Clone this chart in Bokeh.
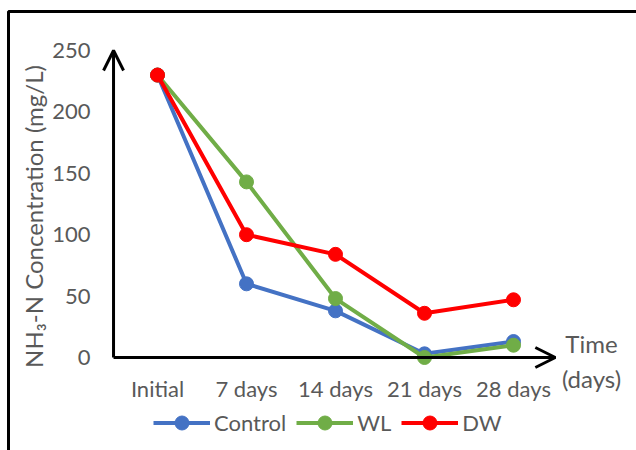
from bokeh.plotting import figure
from bokeh.models import (Range1d, FixedTicker, Arrow, OpenHead, Label, Legend, LegendItem,
                          BoxAnnotation)
from bokeh.embed import file_html
from bokeh.resources import INLINE
import math

categories = ["Initial", "7 days", "14 days", "21 days", "28 days"]
control = [230, 60, 38, 3, 13]
wl = [230, 143, 48, 0, 10]
dw = [230, 100, 84, 36, 47]
y_ticks = [0, 50, 100, 150, 200, 250]

FONT = "Lato"
GRAY = "#595959"
W, H = 636, 450

xs = list(range(len(categories)))

# frame covers the whole canvas; axes are placed with fixed_location
p = figure(width=W, height=H, output_backend="svg", toolbar_location=None,
           x_range=Range1d(-157 / 89, (W - 157) / 89),
           y_range=Range1d(-(H - 357) / 1.228, 357 / 1.228),
           min_border=0)
p.outline_line_color = None
p.grid.visible = False
p.background_fill_color = "white"
p.border_fill_color = "white"

XAX = -0.494  # data x where the y axis sits

for ax in (p.xaxis[0], p.yaxis[0]):
    ax.axis_line_color = None
    ax.major_tick_line_color = None
    ax.minor_tick_line_color = None
    ax.major_tick_out = 0
    ax.major_tick_in = 0
    ax.minor_tick_out = 0
    ax.major_label_text_font = FONT
    ax.major_label_text_color = GRAY
    ax.major_label_text_font_size = "22px"

p.yaxis[0].fixed_location = XAX
p.yaxis[0].ticker = FixedTicker(ticks=y_ticks)
p.yaxis[0].major_label_standoff = 23
p.xaxis[0].fixed_location = 0
p.xaxis[0].ticker = FixedTicker(ticks=xs)
p.xaxis[0].major_label_overrides = {i: c for i, c in enumerate(categories)}
p.xaxis[0].major_label_standoff = 17

series = [("Control", control, "#4472C4"), ("WL", wl, "#70AD47"), ("DW", dw, "#FF0000")]
items = []
for name, vals, col in series:
    ln = p.line(xs, vals, line_color=col, line_width=4)
    sc = p.scatter(xs, vals, size=14, fill_color=col, line_color=col)
    items.append(LegendItem(label=name, renderers=[ln, sc]))

# axis arrows
p.add_layout(Arrow(x_start=XAX, y_start=0, x_end=XAX, y_end=250, line_width=3,
                   line_color="black", end=OpenHead(size=20, line_width=3, line_color="black")))
p.add_layout(Arrow(x_start=XAX, y_start=0, x_end=4.47, y_end=0, line_width=3,
                   line_color="black", end=OpenHead(size=20, line_width=3, line_color="black")))

# y axis title
p.add_layout(Label(x=33, y=H - 216, x_units="screen", y_units="screen",
                   text="NH\u2083-N Concentration (mg/L)", angle=math.pi / 2,
                   text_align="center", text_baseline="middle", text_font=FONT,
                   text_font_size="24px", text_color=GRAY))
# x axis title
p.add_layout(Label(x=591, y=H - 343, x_units="screen", y_units="screen", text="Time",
                   text_align="center", text_baseline="middle", text_font=FONT,
                   text_font_size="24px", text_color=GRAY))
p.add_layout(Label(x=591, y=H - 378, x_units="screen", y_units="screen", text="(days)",
                   text_align="center", text_baseline="middle", text_font=FONT,
                   text_font_size="24px", text_color=GRAY))

legend = Legend(items=items, orientation="horizontal", location=(153, 10),
                glyph_width=57, glyph_height=35, spacing=10, label_standoff=4,
                label_text_font=FONT, label_text_font_size="22px", label_text_color=GRAY,
                border_line_color=None, background_fill_alpha=0, padding=0, margin=0)
p.add_layout(legend, "center")

# outer border of the original figure box
p.add_layout(BoxAnnotation(left=8, right=W + 20, top=H - 11, bottom=-20,
                           left_units="screen", right_units="screen",
                           top_units="screen", bottom_units="screen",
                           fill_color=None, fill_alpha=0, line_color="black",
                           line_alpha=1.0, line_width=3))

open("out.html", "w").write(file_html(p, INLINE))
